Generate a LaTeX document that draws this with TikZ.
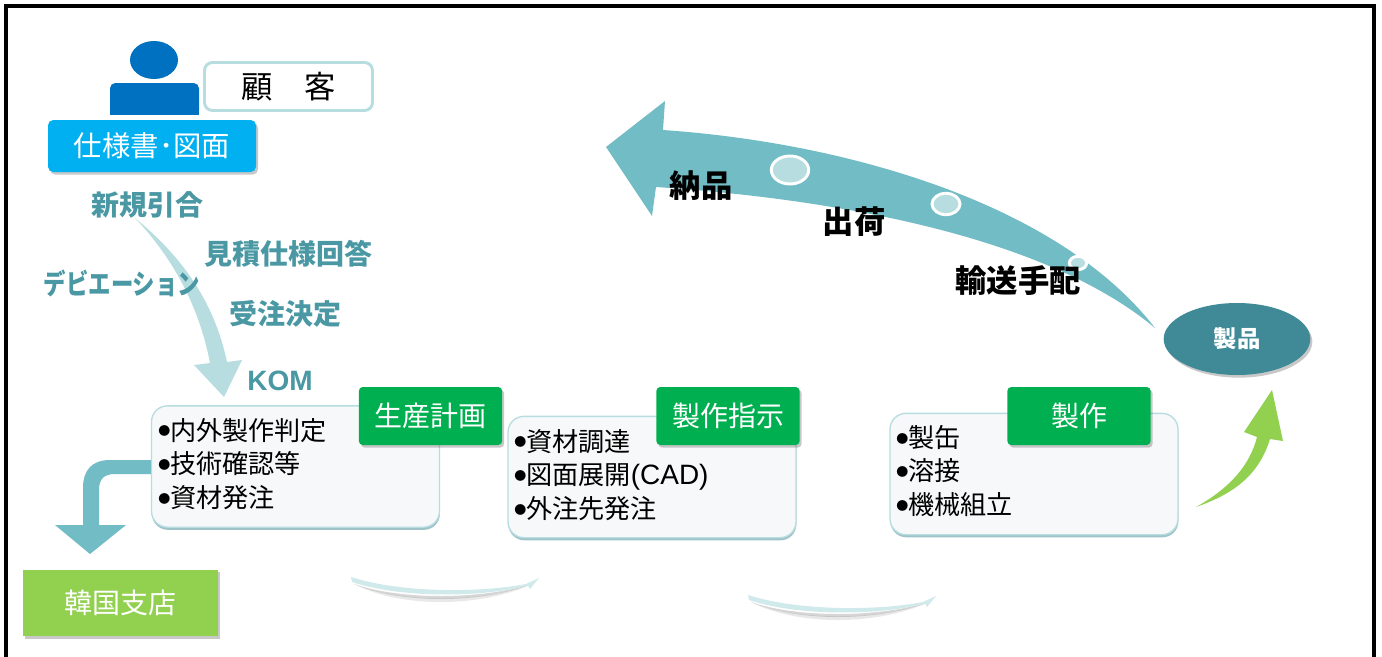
\documentclass[tikz,border=0pt]{standalone}
\usepackage{fontspec}
\setmainfont{Noto Sans CJK JP}
\newfontfamily\latinb{Liberation Sans}[BoldFont={Liberation Sans Bold}]
\usetikzlibrary{shapes.geometric,shadows}
\definecolor{tealtxt}{HTML}{4A98A4}
\definecolor{tealarrow}{HTML}{72BCC6}
\definecolor{palearrow}{HTML}{B7DDE0}
\definecolor{bluebody}{HTML}{0070C0}
\definecolor{skyblue}{HTML}{00B0F0}
\definecolor{leaf}{HTML}{92D050}
\definecolor{tagcol}{HTML}{00B050}
\definecolor{prodcol}{HTML}{3F8A96}
\definecolor{boxfill}{HTML}{F7F8F9}
\newcommand{\fs}[1]{\fontsize{#1pt}{#1pt}\selectfont}
\newcommand{\blt}{\raisebox{3.2pt}{\fs{9}●}}
\tikzset{
  softshadow/.style={drop shadow={shadow xshift=1.5pt,shadow yshift=-2pt,opacity=.3,fill=black!70}},
  tealabel/.style={text=tealtxt,font=\fs{21}\bfseries,inner sep=0pt},
  blacklabel/.style={text=black,font=\fs{23.5}\bfseries,inner sep=0pt},
  tagbox/.style={fill=tagcol,rounded corners=3pt,text=white,font=\fs{21},inner sep=0pt,minimum width=107.5pt,minimum height=43.5pt,softshadow},
  stepbox/.style={fill=boxfill,draw=palearrow,line width=1pt,rounded corners=12pt,inner sep=0pt,minimum width=216pt,minimum height=91pt,drop shadow={shadow xshift=0.3pt,shadow yshift=-2pt,opacity=.5,fill=prodcol}},
  listtext/.style={anchor=north west,align=left,inner sep=0pt,text=black,font=\fs{19.6},execute at begin node={\setlength{\baselineskip}{25.2pt}}},
  ring/.style={ellipse,fill=palearrow,draw=white,line width=2.2pt,inner sep=0pt},
}
\begin{document}
\begin{tikzpicture}[x=0.75pt,y=-0.75pt]
\useasboundingbox (0,0) rectangle (1382,657);
\fill[white] (0,0) rectangle (1382,657);
\draw[black,line width=2.4pt] (6,657) -- (6,6) -- (1374,6) -- (1374,657);

% customer
\node[ellipse,fill=bluebody,minimum width=36pt,minimum height=28.5pt,inner sep=0pt] (head) at (154,60) {};
\fill[bluebody,rounded corners=4pt] (110,116) -- (110,83) -- (199,83) -- (199,116) -- cycle;
\fill[bluebody] (110,100) rectangle (199,115);
\fill[white] (100,115) rectangle (210,120);
\node[draw=palearrow,line width=2.2pt,fill=white,rounded corners=6pt,minimum width=126pt,minimum height=36pt,inner sep=0pt,font=\fs{23.5}] (customer) at (288.5,86.5) {顧　客};
\node[fill=skyblue,rounded corners=4pt,minimum width=156pt,minimum height=39pt,inner sep=0pt,text=white,font=\fs{21.3},softshadow] (spec) at (152,146) {仕様書･図面};

% pale arrow
\fill[palearrow] (135,218) .. controls (180,255) and (214,300) .. (227,362) -- (242,360) -- (224,397) -- (194,365) -- (210,363) .. controls (200,310) and (175,260) .. (135,218) -- cycle;

% teal labels
\node[tealabel] (inq) at (147,205) {新規引合};
\node[tealabel] (quote) at (288,254) {見積仕様回答};
\node[tealabel] (dev) at (122,283) {\scalebox{.8}[1]{デビエーション}};
\node[tealabel] (order) at (285,314) {受注決定};
\node[tealabel,font=\fs{21}\latinb\bfseries] (kom) at (280,381) {KOM};

% step boxes
\node[stepbox] (box1) at (295.5,466.5) {};
\node[stepbox] (box2) at (652,477) {};
\node[stepbox] (box3) at (1034,474) {};
\node[listtext] (list1) at (158,418) {\blt 内外製作判定\\\blt 技術確認等\\\blt 資材発注};
\node[listtext] (list2) at (514,429) {\blt 資材調達\\\blt 図面展開{\fs{21}\latinb(CAD)}\\\blt 外注先発注};
\node[listtext] (list3) at (896,425) {\blt 製缶\\\blt 溶接\\\blt 機械組立};
\node[tagbox] (tag1) at (430.5,416) {生産計画};
\node[tagbox] (tag2) at (728,416) {製作指示};
\node[tagbox] (tag3) at (1079,416) {製作};

% elbow arrow to branch
\node[fill=leaf,minimum width=146pt,minimum height=50pt,inner sep=0pt,text=white,font=\fs{21},softshadow] (korea) at (120.5,603) {韓国支店};
\fill[tealarrow] (box1.west |- 0,460) -- (110,460) .. controls (92,460) and (83,470) .. (83,488) -- (83,525) -- (55,525) -- (90,554) -- (126,525) -- (99,525) -- (99,490) .. controls (99,479) and (104,474) .. (115,474) -- (box1.west |- 0,474) -- cycle;

% thin curved arrows
\foreach \dx/\dy in {0/0,397/18}{
  \begin{scope}[shift={(\dx,\dy)}]
    \fill[black!35,opacity=.25] (354,584) .. controls (400,603) and (480,603) .. (532,584) .. controls (480,608) and (400,608) .. (354,584) -- cycle;
    \fill[black!45,opacity=.35] (354,584) .. controls (400,600) and (480,600) .. (532,584) .. controls (480,604) and (400,604) .. (354,584) -- cycle;
    \fill[palearrow!65] (351,577) .. controls (400,593) and (480,593) .. (526,584) -- (539,578) -- (530,589) -- (528,585.5) .. controls (480,598) and (400,598) .. (352,582) -- cycle;
  \end{scope}
}

% big arrow
\fill[tealarrow] (606,147) -- (665,101) -- (663,130) .. controls (850,143) and (1060,205) .. (1155,328) .. controls (1050,240) and (850,200) .. (656,187) -- (652,216) -- cycle;
\node[ring,minimum width=28pt,minimum height=21pt] (r1) at (790,170) {};
\node[ring,minimum width=21pt,minimum height=16pt] (r2) at (946,204) {};
\node[ring,minimum width=13pt,minimum height=10pt] (r3) at (1078,263) {};
\node[blacklabel] (deliver) at (701,186) {納品};
\node[blacklabel] (ship) at (854,222) {出荷};
\node[blacklabel] (transport) at (1018,281) {輸送手配};

% product
\node[ellipse,fill=prodcol,minimum width=110pt,minimum height=54pt,inner sep=0pt,text=white,font=\fs{17.5}\bfseries,softshadow] (product) at (1237,339) {製品};

% green arrow
\fill[leaf] (1196,507) .. controls (1230,488) and (1250,465) .. (1257,437) -- (1244,432) -- (1272,390) -- (1283,441) -- (1270,439) .. controls (1258,478) and (1230,495) .. (1196,507) -- cycle;
\end{tikzpicture}
\end{document}
